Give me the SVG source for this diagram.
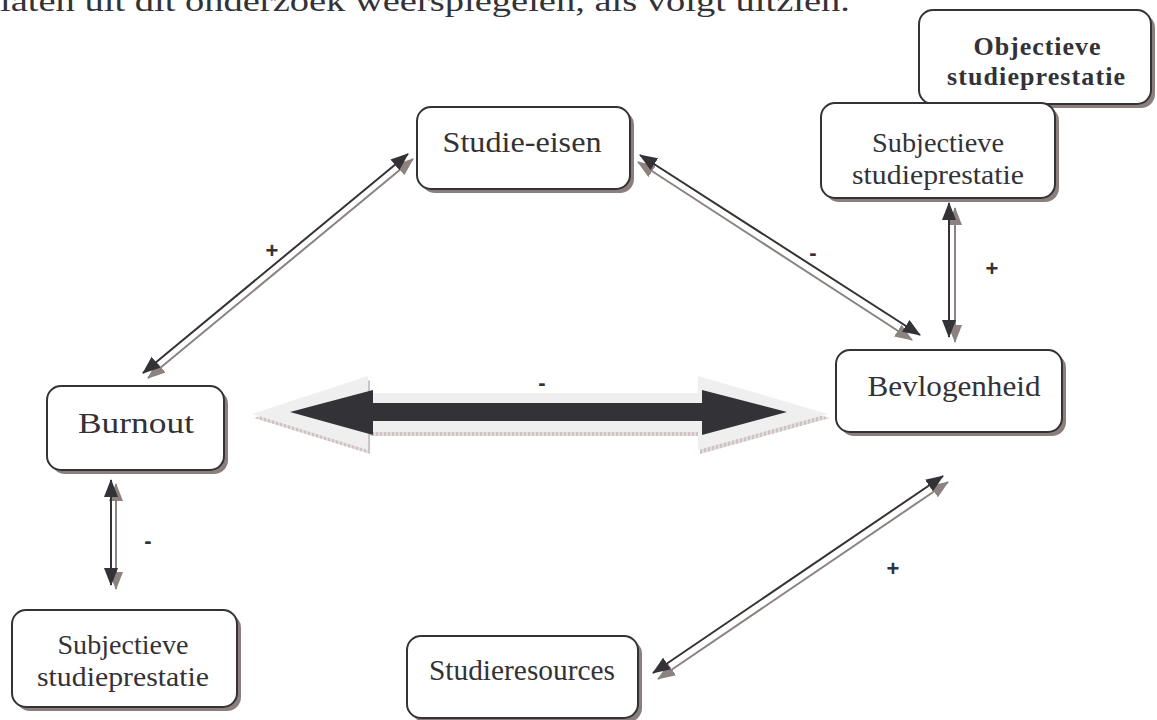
<svg xmlns="http://www.w3.org/2000/svg" width="1157" height="720" viewBox="0 0 1157 720">
<style>
.box{fill:#fff;stroke:#333236;stroke-width:2}
.shd{fill:#8b7f7d}
.t{font-family:"Liberation Serif","DejaVu Serif",serif;fill:#333236;text-anchor:middle}
.n{font-size:30px}
.s{font-size:28px}
.b{font-size:26px;font-weight:bold}
.lbl{font-family:"Liberation Sans",Arial,sans-serif;font-size:22px;font-weight:bold;fill:#333236;text-anchor:middle}
.dk{stroke:#333236;stroke-width:2;fill:none;marker-start:url(#ad);marker-end:url(#ad)}
.gr{stroke:#8c8280;stroke-width:2;fill:none;marker-start:url(#ag);marker-end:url(#ag)}
</style>
<defs>
<marker id="ad" viewBox="0 0 18 14" refX="17" refY="7" markerWidth="18" markerHeight="14" markerUnits="userSpaceOnUse" orient="auto-start-reverse"><path d="M0,0 L18,7 L0,14 Z" fill="#333236"/></marker>
<marker id="ag" viewBox="0 0 18 14" refX="17" refY="7" markerWidth="18" markerHeight="14" markerUnits="userSpaceOnUse" orient="auto-start-reverse"><path d="M0,0 L18,7 L0,14 Z" fill="#8c8280"/></marker>
<pattern id="hatch" width="4" height="4" patternUnits="userSpaceOnUse"><rect width="4" height="4" fill="#e4dcdc"/><path d="M1,0 V4" stroke="#b9abab" stroke-width="1"/></pattern>
</defs>

<text x="0" y="11" style="font-family:'Liberation Serif','DejaVu Serif',serif;font-size:30px;fill:#333236" textLength="850" lengthAdjust="spacingAndGlyphs">laten uit dit onderzoek weerspiegelen, als volgt uitzien.</text>

<g id="connectors">
  <line class="gr" x1="148" y1="378" x2="413" y2="159"/>
  <line class="dk" x1="143" y1="373" x2="408" y2="154"/>
  <line class="gr" x1="638" y1="162" x2="912" y2="340"/>
  <line class="dk" x1="640" y1="155" x2="920" y2="335"/>
  <line class="gr" x1="955" y1="208" x2="955" y2="342"/>
  <line class="dk" x1="949" y1="203" x2="949" y2="337"/>
  <line class="gr" x1="116" y1="484" x2="116" y2="589"/>
  <line class="dk" x1="111" y1="480" x2="111" y2="585"/>
  <line class="gr" x1="658" y1="679" x2="948" y2="482"/>
  <line class="dk" x1="653" y1="673" x2="943" y2="476"/>
  <g id="bigarrow">
    <polygon points="254,418 370,380 370,397 700,397 700,380 830,418 700,454 700,436 370,436 370,454" fill="url(#hatch)"/>
    <polygon points="252,414 368,376 368,393 698,393 698,376 828,414 698,450 698,432 368,432 368,450" fill="#efefef"/>
    <polygon points="290,412 373,390 373,403 702,403 702,390 787,412 702,435 702,421 373,421 373,435" fill="#333236"/>
  </g>
  <text class="lbl" x="272" y="258">+</text>
  <text class="lbl" x="813" y="260">-</text>
  <text class="lbl" x="992" y="276">+</text>
  <text class="lbl" x="148" y="548">-</text>
  <text class="lbl" x="893" y="576">+</text>
  <text class="lbl" x="542" y="390">-</text>
</g>

<g id="objectieve">
  <rect class="shd" x="923" y="14" width="232" height="94" rx="14"/>
  <rect class="box" x="919" y="10" width="232" height="94" rx="14"/>
  <text class="t b" x="1037" y="55" textLength="127">Objectieve</text>
  <text class="t b" x="1036" y="85" textLength="178">studieprestatie</text>
</g>
<g id="subjectieve-top">
  <rect class="shd" x="825" y="107" width="234" height="95" rx="14"/>
  <rect class="box" x="821" y="103" width="234" height="95" rx="14"/>
  <text class="t s" x="938" y="152" textLength="132" lengthAdjust="spacingAndGlyphs">Subjectieve</text>
  <text class="t s" x="938" y="184" textLength="172" lengthAdjust="spacingAndGlyphs">studieprestatie</text>
</g>
<g id="studie-eisen">
  <rect class="shd" x="421" y="111" width="213" height="82" rx="14"/>
  <rect class="box" x="417" y="107" width="213" height="82" rx="14"/>
  <text class="t n" x="522" y="152" textLength="159" lengthAdjust="spacingAndGlyphs">Studie-eisen</text>
</g>
<g id="bevlogenheid">
  <rect class="shd" x="840" y="354" width="226" height="82" rx="14"/>
  <rect class="box" x="836" y="350" width="226" height="82" rx="14"/>
  <text class="t n" x="954" y="396" textLength="173" lengthAdjust="spacingAndGlyphs">Bevlogenheid</text>
</g>
<g id="burnout">
  <rect class="shd" x="51" y="390" width="177" height="84" rx="14"/>
  <rect class="box" x="47" y="386" width="177" height="84" rx="14"/>
  <text class="t n" x="136" y="433" textLength="116" lengthAdjust="spacingAndGlyphs">Burnout</text>
</g>
<g id="subjectieve-bottom">
  <rect class="shd" x="16" y="614" width="225" height="97" rx="14"/>
  <rect class="box" x="12" y="610" width="225" height="97" rx="14"/>
  <text class="t s" x="123" y="654" textLength="131" lengthAdjust="spacingAndGlyphs">Subjectieve</text>
  <text class="t s" x="123" y="686" textLength="172" lengthAdjust="spacingAndGlyphs">studieprestatie</text>
</g>
<g id="studieresources">
  <rect class="shd" x="411" y="640" width="231" height="82" rx="14"/>
  <rect class="box" x="407" y="636" width="231" height="82" rx="14"/>
  <text class="t n" x="522" y="680" textLength="186" lengthAdjust="spacingAndGlyphs">Studieresources</text>
</g>
</svg>
